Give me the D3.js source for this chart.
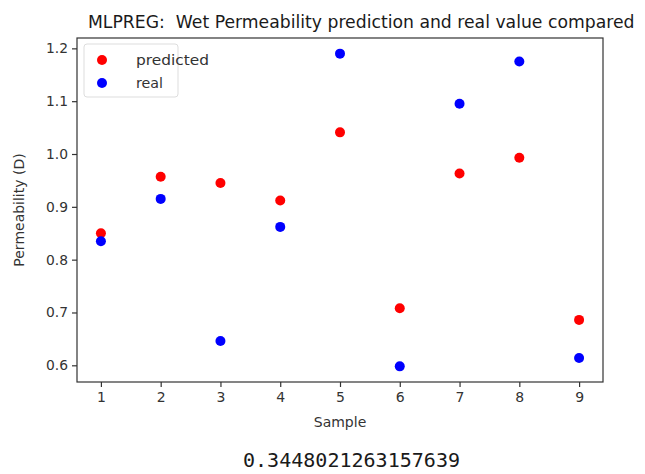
<!DOCTYPE html>
<html><head><meta charset="utf-8">
<script src="https://cdn.jsdelivr.net/npm/d3@7"></script>
<style>body{margin:0;background:#fff;} svg{display:block;}</style>
</head><body>
<svg id="chart" width="645" height="474"></svg>
<script>
const samples = [1, 2, 3, 4, 5, 6, 7, 8, 9];
const predicted = [0.850, 0.957, 0.945, 0.912, 1.041, 0.708, 0.963, 0.993, 0.686];
const real = [0.835, 0.915, 0.646, 0.862, 1.190, 0.598, 1.095, 1.175, 0.614];
const yTicks = [0.6, 0.7, 0.8, 0.9, 1.0, 1.1, 1.2];
const seriesNames = ["predicted", "real"];
const seriesColors = ["#ff0000", "#0000ff"];
const scoreText = "0.3448021263157639";

const svg = d3.select("#chart");
const m = {left: 77, top: 38, right: 603, bottom: 382};
const x = d3.scaleLinear().domain([0.6, 9.4]).range([m.left, m.right]);
const y = d3.scaleLinear().domain([0.5684, 1.2196]).range([m.bottom, m.top]);
const textColor = "#333";
const font = "DejaVu Sans, sans-serif";

// axes
const xAxis = svg.append("g").attr("transform", `translate(0,${m.bottom})`)
  .call(d3.axisBottom(x).tickValues(samples).tickFormat(d3.format("d")).tickSize(5).tickPadding(5));
const yAxis = svg.append("g").attr("transform", `translate(${m.left},0)`)
  .call(d3.axisLeft(y).tickValues(yTicks).tickFormat(d3.format(".1f")).tickSize(5).tickPadding(4));
[xAxis, yAxis].forEach(g => {
  g.select(".domain").remove();
  g.selectAll("line").attr("stroke", "#333").attr("stroke-width", 1.2);
  g.selectAll("text").attr("fill", textColor).style("font-family", font).style("font-size", "14px");
});
yAxis.selectAll("text").attr("textLength", 22).attr("lengthAdjust", "spacingAndGlyphs");

// frame
svg.append("rect").attr("x", m.left).attr("y", m.top)
  .attr("width", m.right - m.left).attr("height", m.bottom - m.top)
  .attr("fill", "none").attr("stroke", "#333").attr("stroke-width", 1.2);

// points
const series = [predicted, real];
series.forEach((vals, i) => {
  svg.append("g").selectAll("circle").data(vals).join("circle")
    .attr("cx", (d, j) => x(samples[j]))
    .attr("cy", d => y(d))
    .attr("r", 5)
    .attr("fill", seriesColors[i]);
});

// legend
const lg = svg.append("g");
lg.append("rect").attr("x", 84).attr("y", 44).attr("width", 94).attr("height", 53)
  .attr("rx", 3).attr("fill", "#fff").attr("fill-opacity", 0.8).attr("stroke", "#ddd");
seriesNames.forEach((n, i) => {
  lg.append("circle").attr("cx", 102).attr("cy", 60 + i * 23).attr("r", 5).attr("fill", seriesColors[i]);
  lg.append("text").attr("x", 136).attr("y", 60 + i * 23).attr("dy", "0.35em")
    .attr("fill", textColor).style("font-family", font).style("font-size", "14px")
    .attr("textLength", i === 0 ? 73 : 27).attr("lengthAdjust", "spacingAndGlyphs").text(n);
});

// title & labels (horizontally condensed to match the reference)
const title = svg.append("text")
  .attr("fill", "#1a1a1a").style("font-family", font).style("font-size", "18px")
  .style("white-space", "pre").attr("xml:space", "preserve")
  .text("MLPREG:  Wet Permeability prediction and real value compared");
const tw = title.node().getComputedTextLength();
title.attr("transform", `translate(88,28) scale(${547 / tw},1)`);

svg.append("text").attr("x", 340).attr("y", 427).attr("text-anchor", "middle")
  .attr("fill", textColor).style("font-family", font).style("font-size", "14px").text("Sample");
svg.append("text").attr("transform", `translate(24,${(m.top + m.bottom) / 2}) rotate(-90)`)
  .attr("text-anchor", "middle").attr("fill", textColor)
  .style("font-family", font).style("font-size", "14px").text("Permeability (D)");
svg.append("text").attr("x", 243).attr("y", 467)
  .attr("fill", "#1a1a1a").style("font-family", "DejaVu Sans Mono, monospace").style("font-size", "19px")
  .attr("textLength", 217).attr("lengthAdjust", "spacingAndGlyphs")
  .text(scoreText);
</script>
</body></html>
